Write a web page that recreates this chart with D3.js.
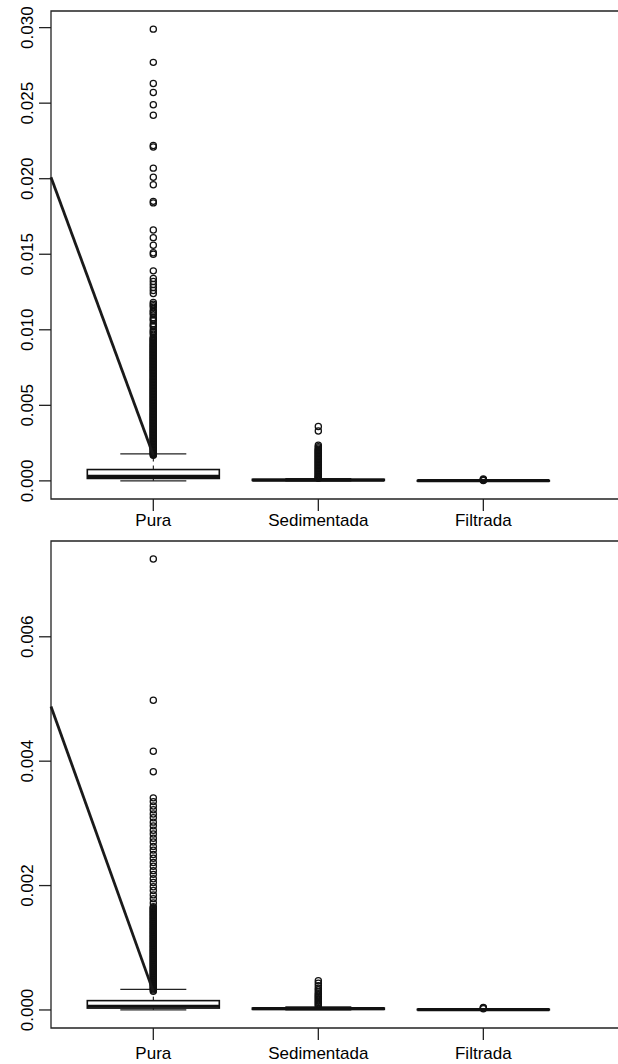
<!DOCTYPE html>
<html>
<head>
<meta charset="utf-8">
<script src="https://cdn.jsdelivr.net/npm/d3@7/dist/d3.min.js"></script>
<style>
  html, body { margin: 0; padding: 0; background: #fff; overflow: hidden; }
  svg { display: block; }
  text { font-family: "Liberation Sans", Arial, sans-serif; fill: #000; }
</style>
</head>
<body>
<div id="chart"></div>
<script>
var categories = ["Pura", "Sedimentada", "Filtrada"];

// [lower whisker, Q1, median, Q3, upper whisker] per category
var topStats = [
  [0.0000, 0.00016, 0.00030, 0.00075, 0.00179],
  [0.0000, 0.00003, 0.00005, 0.00010, 0.00015],
  [0.0000, 0.000005, 0.00001, 0.00002, 0.00003]
];
var bottomStats = [
  [0.0000, 0.00003, 0.00006, 0.00015, 0.00033],
  [0.0000, 0.00001, 0.00002, 0.00003, 0.00005],
  [0.0000, 0.000002, 0.000005, 0.00001, 0.00002]
];

var topPuraOut = [0.0299, 0.0277, 0.0263, 0.0257, 0.0249, 0.0242, 0.0222, 0.0221, 0.0207, 0.0201,
  0.0196, 0.0185, 0.0184, 0.0166, 0.0161, 0.0156, 0.0151, 0.0150, 0.0139, 0.0134, 0.0132, 0.0130,
  0.0128, 0.0126, 0.0124, 0.0118, 0.0117, 0.0116, 0.0115, 0.0113, 0.0112, 0.0111, 0.0110, 0.0108,
  0.0107, 0.0106, 0.0104, 0.0103, 0.0102, 0.0100, 0.0099, 0.0098, 0.0097, 0.0095, 0.0094, 0.0093,
  0.0092, 0.0091, 0.0090, 0.0089, 0.0088, 0.0087, 0.0086, 0.0085, 0.0084, 0.0083, 0.0082, 0.0081,
  0.0080, 0.0079, 0.0078, 0.0077, 0.0076, 0.0075, 0.0074, 0.0073, 0.0072, 0.0071, 0.0070, 0.0069,
  0.0068, 0.0067, 0.0066, 0.0065, 0.0064, 0.0063, 0.0062, 0.0061, 0.0060, 0.0059, 0.0058, 0.0057,
  0.0056, 0.0055, 0.0054, 0.0053, 0.0052, 0.0051, 0.0050, 0.0049, 0.0048, 0.0047, 0.0046, 0.0045,
  0.0044, 0.0043, 0.0042, 0.0041, 0.0040, 0.0039, 0.0038, 0.0037, 0.0036, 0.0035, 0.0034, 0.0033,
  0.0032, 0.0031, 0.0030, 0.0029, 0.0028, 0.0027, 0.0026, 0.0025, 0.0024, 0.0023, 0.0022, 0.0021,
  0.0020, 0.0019, 0.0018, 0.0017,
  0.00945, 0.00935, 0.00925, 0.00915, 0.00905, 0.00895, 0.00885, 0.00875, 0.00865, 0.00855, 0.00845,
  0.00835, 0.00825, 0.00815, 0.00805, 0.00795, 0.00785, 0.00775, 0.00765, 0.00755, 0.00745, 0.00735,
  0.00725, 0.00715, 0.00705, 0.00695, 0.00685, 0.00675, 0.00665, 0.00655, 0.00645, 0.00635, 0.00625,
  0.00615, 0.00605, 0.00595, 0.00585, 0.00575, 0.00565, 0.00555, 0.00545, 0.00535, 0.00525, 0.00515,
  0.00505, 0.00495, 0.00485, 0.00475, 0.00465, 0.00455, 0.00445, 0.00435, 0.00425, 0.00415, 0.00405,
  0.00395, 0.00385, 0.00375, 0.00365, 0.00355, 0.00345, 0.00335, 0.00325, 0.00315, 0.00305, 0.00295,
  0.00285, 0.00275, 0.00265, 0.00255, 0.00245, 0.00235, 0.00225, 0.00215, 0.00205, 0.00195, 0.00185,
  0.00175];
var topSediOut = [0.0036, 0.0033, 0.00236, 0.00226, 0.00218, 0.0021, 0.0020, 0.0019, 0.0018, 0.0017,
  0.0016, 0.0015, 0.0014, 0.0013, 0.0012, 0.0011, 0.0010, 0.0009, 0.0008, 0.0007, 0.0006, 0.0005,
  0.0004, 0.0003, 0.00025, 0.0002,
  0.00205, 0.00195, 0.00185, 0.00175, 0.00165, 0.00155, 0.00145, 0.00135, 0.00125, 0.00115, 0.00105,
  0.00095, 0.00085, 0.00075, 0.00065, 0.00055, 0.00045, 0.00035, 0.00022, 0.00018];
var topFiltOut = [0.00012, 0.00008, 0.00005, 0.00003];

var bottomPuraOut = [0.00725, 0.00498, 0.00416, 0.00383, 0.00341, 0.00335, 0.00328, 0.00322, 0.00315,
  0.00309, 0.00302, 0.00296, 0.00289, 0.00283, 0.00276, 0.00270, 0.00263, 0.00257, 0.00250, 0.00244,
  0.00237, 0.00231, 0.00224, 0.00218, 0.00211, 0.00205, 0.00198, 0.00192, 0.00185, 0.00179, 0.00172,
  0.00166, 0.00163, 0.00160, 0.00157, 0.00154, 0.00151, 0.00148, 0.00145, 0.00142, 0.00139, 0.00136,
  0.00133, 0.00130, 0.00127, 0.00124, 0.00121, 0.00118, 0.00115, 0.00112, 0.00109, 0.00106, 0.00103,
  0.00100, 0.00097, 0.00094, 0.00091, 0.00088, 0.00085, 0.00082, 0.00079, 0.00076, 0.00073, 0.00070,
  0.00067, 0.00064, 0.00061, 0.00058, 0.00055, 0.00052, 0.00049, 0.00046, 0.00043, 0.00040, 0.00037,
  0.00034,
  0.001645, 0.001615, 0.001585, 0.001555, 0.001525, 0.001495, 0.001465, 0.001435, 0.001405, 0.001375,
  0.001345, 0.001315, 0.001285, 0.001255, 0.001225, 0.001195, 0.001165, 0.001135, 0.001105, 0.001075,
  0.001045, 0.001015, 0.000985, 0.000955, 0.000925, 0.000895, 0.000865, 0.000835, 0.000805, 0.000775,
  0.000745, 0.000715, 0.000685, 0.000655, 0.000625, 0.000595, 0.000565, 0.000535, 0.000505, 0.000475,
  0.000445, 0.000415, 0.000385, 0.000355, 0.00032, 0.00030];
var bottomSediOut = [0.00047, 0.00043, 0.00039, 0.00035, 0.00032, 0.00029, 0.00026, 0.00024, 0.00022,
  0.00020, 0.00018, 0.00016, 0.00014, 0.00012, 0.00010, 0.00008, 0.00006];
var bottomFiltOut = [0.00004, 0.00003, 0.00002];

// the straight line drawn over each panel: [x position, value]
var topTrend = [[0.38, 0.0201], [1, 0.0017]];
var bottomTrend = [[0.38, 0.00488], [1, 0.000295]];

var topTicks = [0, 0.005, 0.010, 0.015, 0.020, 0.025, 0.030];
var bottomTicks = [0, 0.002, 0.004, 0.006];

var W = 618, H = 1064;
var svg = d3.select("#chart").append("svg")
  .attr("width", W)
  .attr("height", H);

var x = d3.scaleLinear()
  .domain([0.38, 3.85])
  .range([51, 623.6]);

function drawPanel(top, bottom, yDomain, ticks, stats, outliers, trend, labelDy) {
  var y = d3.scaleLinear().domain(yDomain).range([bottom, top]);
  var g = svg.append("g");
  var boxW = 0.8 * (x(2) - x(1));

  // frame (right side runs off the picture)
  g.append("path")
    .attr("d", "M" + (W + 5) + "," + top + "H" + x.range()[0] + "V" + bottom + "H" + (W + 5))
    .attr("fill", "none")
    .attr("stroke", "#222")
    .attr("stroke-width", 1.3);

  // y axis ticks
  g.selectAll(".ytick")
    .data(ticks).enter()
    .append("line")
    .attr("x1", x.range()[0] - 12)
    .attr("x2", x.range()[0])
    .attr("y1", function(d) { return y(d); })
    .attr("y2", function(d) { return y(d); })
    .attr("stroke", "#222")
    .attr("stroke-width", 1.3);

  g.selectAll(".ylab")
    .data(ticks).enter()
    .append("text")
    .text(d3.format(".3f"))
    .attr("text-anchor", "middle")
    .style("font-size", "17px")
    .attr("transform", function(d) { return "translate(" + (x.range()[0] - 18) + "," + y(d) + ") rotate(-90)"; });

  // x axis ticks + labels
  g.selectAll(".xtick")
    .data(categories).enter()
    .append("line")
    .attr("x1", function(d, i) { return x(i + 1); })
    .attr("x2", function(d, i) { return x(i + 1); })
    .attr("y1", bottom)
    .attr("y2", bottom + 12)
    .attr("stroke", "#222")
    .attr("stroke-width", 1.3);

  g.selectAll(".xlab")
    .data(categories).enter()
    .append("text")
    .text(function(d) { return d; })
    .attr("text-anchor", "middle")
    .style("font-size", "17px")
    .attr("x", function(d, i) { return x(i + 1); })
    .attr("y", bottom + labelDy);

  stats.forEach(function(s, i) {
    var cx = x(i + 1);
    // whiskers (dashed) and staples
    [[s[0], s[1]], [s[3], s[4]]].forEach(function(w) {
      g.append("line")
        .attr("x1", cx).attr("x2", cx)
        .attr("y1", y(w[0])).attr("y2", y(w[1]))
        .attr("stroke", "#000")
        .attr("stroke-dasharray", "4,4");
    });
    [s[0], s[4]].forEach(function(v) {
      g.append("line")
        .attr("x1", cx - boxW / 4).attr("x2", cx + boxW / 4)
        .attr("y1", y(v)).attr("y2", y(v))
        .attr("stroke", "#222")
        .attr("stroke-width", 1.3);
    });
    g.append("rect")
      .attr("x", cx - boxW / 2)
      .attr("width", boxW)
      .attr("y", y(s[3]))
      .attr("height", Math.max(y(s[1]) - y(s[3]), 0.5))
      .attr("fill", "#fff")
      .attr("stroke", "#111")
      .attr("stroke-width", 1.6);
    g.append("line")
      .attr("x1", cx - boxW / 2).attr("x2", cx + boxW / 2)
      .attr("y1", y(s[2])).attr("y2", y(s[2]))
      .attr("stroke", "#111")
      .attr("stroke-width", 3.2);

    g.selectAll(".out" + i)
      .data(outliers[i]).enter()
      .append("circle")
      .attr("cx", cx)
      .attr("cy", function(d) { return y(d); })
      .attr("r", 3.1)
      .attr("fill", "none")
      .attr("stroke", "#111")
      .attr("stroke-width", 1.25);
  });

  // overlaid straight line
  g.append("path")
    .datum(trend)
    .attr("d", d3.line()
      .x(function(d) { return x(d[0]); })
      .y(function(d) { return y(d[1]); }))
    .attr("fill", "none")
    .attr("stroke", "#1a1a1a")
    .attr("stroke-width", 2.8);
}

drawPanel(11, 499, [-0.0012, 0.0311], topTicks, topStats,
  [topPuraOut, topSediOut, topFiltOut], topTrend, 27);
drawPanel(541, 1028, [-0.00029, 0.00754], bottomTicks, bottomStats,
  [bottomPuraOut, bottomSediOut, bottomFiltOut], bottomTrend, 31);
</script>
</body>
</html>
